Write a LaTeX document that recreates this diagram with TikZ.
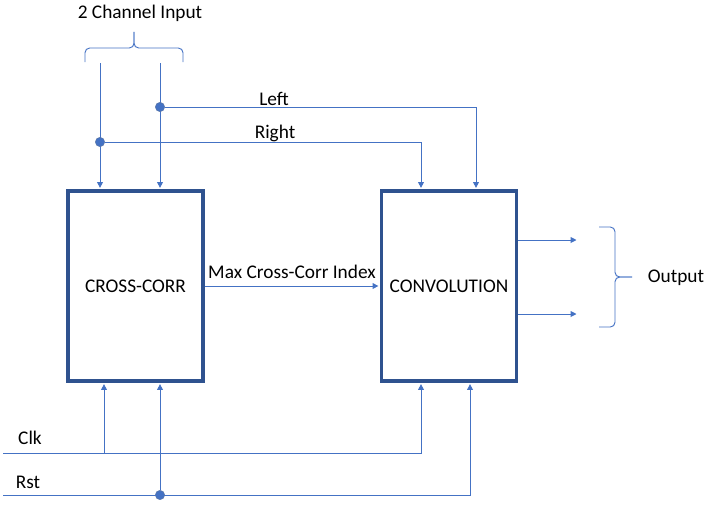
\documentclass[tikz,border=0pt]{standalone}
\usepackage{fontspec}
\setmainfont{Carlito}
\usetikzlibrary{arrows.meta, positioning, calc}
\definecolor{wireblue}{RGB}{68, 114, 196}
\definecolor{boxblue}{RGB}{47, 82, 143}

\tikzset{
    block/.style={draw=boxblue, line width=2.7pt, minimum width=4.05cm, minimum height=5.7cm, inner sep=0pt},
    wire/.style={draw=wireblue, line width=0.8pt},
    sig/.style={wire, -{Triangle[length=5pt, width=5pt]}, shorten >=1.3pt},
    tap/.style={circle, fill=wireblue, draw=boxblue!80, line width=0.4pt, inner sep=0pt, minimum size=8pt},
    lbl/.style={font=\fontsize{16.5}{20}\selectfont, inner sep=0pt},
    curly/.style={wire, rounded corners=4pt}
}

\begin{document}
\begin{tikzpicture}[x=0.03cm, y=-0.03cm]
    \useasboundingbox (0,0) rectangle (712,507);

    % Blocks
    \node[block, lbl] (xcorr) at (135.5,286) {CROSS-CORR};
    \node[block, lbl] (conv) at (449,286) {CONVOLUTION};

    % Two channel input
    \node[lbl] (inlbl) at (140,13) {2 Channel Input};
    \coordinate (intip) at (134,32);
    \draw[curly] (85,62) |- (134,48) -- (intip);
    \draw[curly] (183,62) |- (134,48) -- (intip);
    \coordinate (inR) at (100,63);
    \coordinate (inL) at (160,63);
    \coordinate (convR) at (421,0);
    \coordinate (convL) at (476,0);

    \draw[sig] (inR) -- (inR |- xcorr.north);
    \draw[sig] (inL) -- (inL |- xcorr.north);
    \node[tap] (tapL) at (160,107) {};
    \node[tap] (tapR) at (100,142) {};
    \draw[sig] (tapL) -| (convL |- conv.north);
    \draw[sig] (tapR) -| (convR |- conv.north);
    \node[lbl] (leftlbl) at (274,99) {Left};
    \node[lbl] (rightlbl) at (275,133) {Right};

    % Index between blocks
    \draw[sig] (xcorr.east) -- (conv.west);
    \node[lbl] (idxlbl) at (292,272) {Max Cross-Corr Index};

    % Outputs
    \coordinate (out1) at (578,240);
    \coordinate (out2) at (578,314);
    \draw[sig] (conv.east |- out1) -- (out1);
    \draw[sig] (conv.east |- out2) -- (out2);
    \coordinate (outtip) at (632,277);
    \draw[curly] (599,227) -| (615,277) -- (outtip);
    \draw[curly] (599,327) -| (615,277) -- (outtip);
    \node[lbl] (outlbl) at (676,278) {Output};

    % Clock and reset
    \coordinate (clk) at (3,453);
    \coordinate (rst) at (3,495);
    \coordinate (clkx) at (104,453);
    \coordinate (rstx) at (470,0);
    \node[lbl] (clklbl) at (30,438) {Clk};
    \node[lbl] (rstlbl) at (28,482) {Rst};
    \draw[sig] (clk) -| (convR |- conv.south);
    \draw[sig] (clkx) -- (clkx |- xcorr.south);
    \draw[sig] (rst) -| (rstx |- conv.south);
    \node[tap] (taprst) at (160,495) {};
    \draw[sig] (taprst) -- (taprst |- xcorr.south);
\end{tikzpicture}
\end{document}
